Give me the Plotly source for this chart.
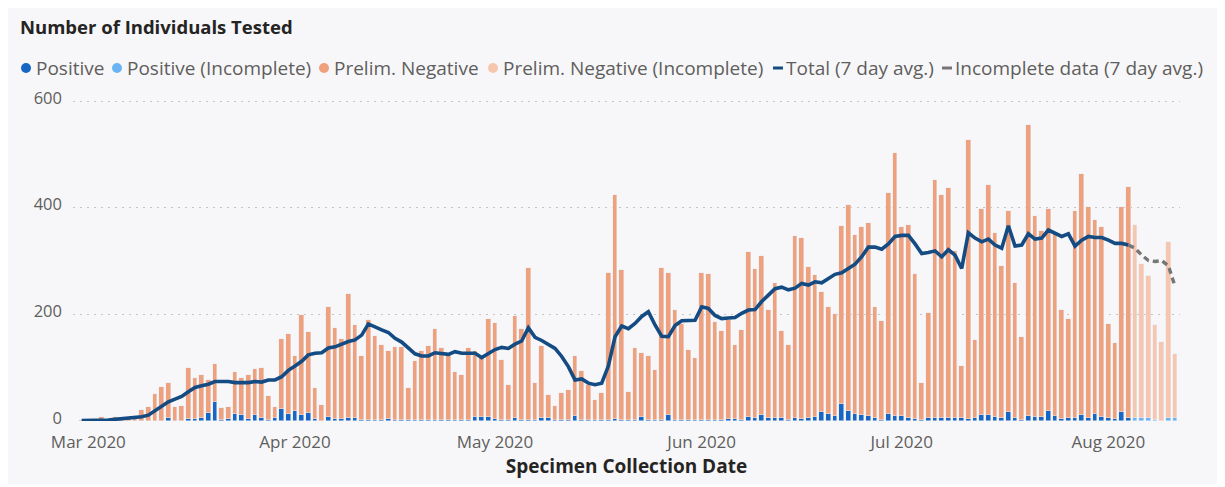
import pandas as pd
import plotly.graph_objects as go

# ---------------- data ----------------
START = "2020-02-29"

positive = [
    0, 0, 0, 0, 0, 0, 0, 0, 0, 0,
    0, 0, 0, 5, 0, 0, 3, 3, 6, 15,
    35, 2, 3, 13, 11, 4, 11, 6, 2, 5,
    22, 13, 18, 12, 15, 3, 0, 8, 3, 3,
    5, 5, 1, 1, 2, 2, 3, 2, 1, 1,
    1, 1, 1, 2, 1, 1, 2, 2, 1, 7,
    7, 7, 4, 1, 1, 5, 1, 1, 2, 5,
    5, 1, 1, 1, 10, 2, 2, 1, 1, 1,
    3, 1, 2, 1, 8, 1, 1, 2, 11, 2,
    2, 1, 1, 1, 2, 1, 2, 4, 4, 1,
    8, 6, 11, 6, 5, 5, 1, 5, 4, 5,
    8, 16, 13, 10, 31, 19, 13, 11, 10, 5,
    1, 14, 10, 10, 6, 3, 1, 6, 6, 5,
    5, 6, 5, 4, 5, 11, 11, 8, 5, 16,
    5, 2, 10, 8, 8, 19, 10, 4, 6, 6,
    11, 6, 13, 8, 6, 4, 16, 6,
]

prelim_negative = [
    1, 1, 2, 8, 3, 8, 4, 5, 5, 21,
    27, 51, 63, 67, 27, 28, 96, 77, 81, 62,
    71, 23, 24, 78, 69, 83, 86, 93, 44, 22,
    131, 151, 104, 187, 151, 58, 30, 206, 171, 151,
    234, 175, 121, 188, 157, 140, 129, 137, 138, 60,
    111, 130, 140, 170, 136, 124, 90, 84, 136, 125,
    115, 184, 180, 113, 67, 191, 172, 286, 69, 136,
    44, 27, 51, 58, 112, 92, 66, 38, 51, 277,
    420, 283, 53, 135, 120, 120, 95, 284, 267, 206,
    179, 133, 118, 276, 273, 185, 166, 185, 139, 170,
    308, 279, 299, 203, 254, 164, 142, 341, 340, 283,
    266, 225, 201, 190, 335, 386, 336, 353, 361, 208,
    187, 413, 492, 353, 362, 273, 71, 197, 445, 419,
    431, 313, 98, 522, 147, 386, 432, 345, 286, 378,
    254, 156, 545, 376, 349, 379, 342, 204, 186, 387,
    453, 396, 364, 356, 175, 142, 385, 433,
]

total_7day_avg = [
    1, 1, 1, 2, 2, 3, 4, 6, 7, 8,
    11, 19, 28, 36, 41, 46, 55, 63, 66, 69,
    74, 74, 74, 72, 72, 72, 74, 73, 77, 77,
    83, 95, 103, 112, 124, 127, 128, 137, 139, 144,
    149, 152, 161, 182, 176, 171, 166, 155, 148, 136,
    126, 122, 122, 128, 127, 125, 130, 127, 127, 127,
    119, 127, 134, 138, 136, 144, 150, 175, 157, 151,
    143, 136, 121, 102, 77, 79, 71, 68, 71, 103,
    158, 178, 173, 183, 196, 205, 180, 159, 158, 179,
    188, 189, 189, 214, 211, 198, 192, 193, 194, 202,
    208, 209, 224, 236, 248, 251, 246, 249, 258, 255,
    261, 259, 268, 275, 278, 286, 294, 308, 326, 326,
    322, 332, 346, 348, 348, 332, 314, 316, 319, 308,
    321, 311, 286, 353, 343, 336, 341, 330, 324, 366,
    328, 330, 351, 341, 343, 358, 352, 346, 351, 328,
    339, 346, 344, 344, 339, 333, 333, 330,
]

positive_incomplete = [6, 6, 6, 2, 0, 6, 6]
prelim_negative_incomplete = [362, 288, 265, 178, 148, 330, 119]
incomplete_7day_avg = [330, 324, 311, 301, 299, 301, 291, 252]

y_tick_values = [0, 200, 400, 600]

series_names = ["Positive", "Positive (Incomplete)", "Prelim. Negative",
                "Prelim. Negative (Incomplete)", "Total (7 day avg.)",
                "Incomplete data (7 day avg.)"]

# ---------------- styles ----------------
C_POS = "#1866C4"
C_POS_INC = "#6AB4F4"
C_NEG = "#EFA07C"
C_NEG_INC = "#F6C6AE"
C_AVG = "#134B82"
C_AVG_INC = "#767676"
C_TEXT = "#605E5C"
C_TITLE = "#252423"
CARD = "#F7F7F9"
FONT = "Segoe UI, Open Sans, Noto Sans, sans-serif"

W, H = 1225, 487
OFF = 8  # the page body margin shifts the figure by 8 px right and down

# plot area in page pixels (as seen in the reference)
P_LEFT, P_RIGHT, P_TOP, P_BOTTOM = 73, 1180, 91, 421
L = P_LEFT - OFF
R = W - (P_RIGHT - OFF)
T = P_TOP - OFF
B = H - (P_BOTTOM - OFF)
PW, PH = W - L - R, H - T - B

PX_PER_DAY = 6.667
FIRST_BAR_PX = 81.67

dates = pd.date_range(START, periods=len(positive), freq="D")
dates_inc = pd.date_range(dates[-1] + pd.Timedelta(days=1),
                          periods=len(positive_incomplete), freq="D")
dates_avg_inc = pd.date_range(dates[-1], periods=len(incomplete_7day_avg), freq="D")

start_ts = pd.Timestamp(START)
x_left = start_ts + pd.Timedelta(days=(P_LEFT - FIRST_BAR_PX) / PX_PER_DAY)
x_right = start_ts + pd.Timedelta(days=(P_RIGHT - FIRST_BAR_PX) / PX_PER_DAY)

y_top = PH / (320 / 600)  # 600 units over 320 px
bar_w = 0.72 * 86400000


def px(x):
    """page x pixel -> paper coordinate"""
    return (x - OFF - L) / PW


def py(y):
    """page y pixel -> paper coordinate"""
    return (H - B - (y - OFF)) / PH


fig = go.Figure()
fig.add_trace(go.Bar(x=dates, y=positive, name=series_names[0], marker_color=C_POS,
                     width=bar_w, showlegend=False))
fig.add_trace(go.Bar(x=dates_inc, y=positive_incomplete, name=series_names[1],
                     marker_color=C_POS_INC, width=bar_w, showlegend=False))
fig.add_trace(go.Bar(x=dates, y=prelim_negative, name=series_names[2], marker_color=C_NEG,
                     width=bar_w, showlegend=False))
fig.add_trace(go.Bar(x=dates_inc, y=prelim_negative_incomplete, name=series_names[3],
                     marker_color=C_NEG_INC, width=bar_w, showlegend=False))
fig.add_trace(go.Scatter(x=dates, y=total_7day_avg, name=series_names[4], mode="lines",
                         line=dict(color=C_AVG, width=3.6), showlegend=False))
fig.add_trace(go.Scatter(x=dates_avg_inc, y=incomplete_7day_avg, name=series_names[5],
                         mode="lines", line=dict(color=C_AVG_INC, width=3.4, dash="6px,4px"),
                         showlegend=False))

shapes = [dict(type="rect", xref="paper", yref="paper", layer="below",
               x0=px(3), x1=px(1222), y0=py(484), y1=py(6),
               fillcolor=CARD, line=dict(width=0))]
annotations = []

# legend (drawn manually to match the compact Power BI legend)
legend_items = [
    (series_names[0], "circle", C_POS, 26, 34),
    (series_names[1], "circle", C_POS_INC, 117, 125),
    (series_names[2], "circle", C_NEG, 324, 332),
    (series_names[3], "circle", C_NEG_INC, 493, 501),
    (series_names[4], "line", C_AVG, 778, 784),
    (series_names[5], "line", C_AVG_INC, 947, 953),
]
LEG_Y = 68
for name, kind, color, mx, tx in legend_items:
    if kind == "circle":
        shapes.append(dict(type="circle", xref="paper", yref="paper",
                           x0=px(mx - 5), x1=px(mx + 5), y0=py(LEG_Y + 5), y1=py(LEG_Y - 5),
                           fillcolor=color, line=dict(width=0)))
    else:
        shapes.append(dict(type="line", xref="paper", yref="paper",
                           x0=px(mx - 5), x1=px(mx + 5), y0=py(LEG_Y), y1=py(LEG_Y),
                           line=dict(color=color, width=3)))
    annotations.append(dict(text=name, xref="paper", yref="paper", x=px(tx), y=py(LEG_Y),
                            xanchor="left", yanchor="middle", showarrow=False,
                            font=dict(family=FONT, size=19, color=C_TEXT)))

fig.update_layout(
    width=W, height=H,
    margin=dict(l=L, r=R, t=T, b=B, autoexpand=False),
    paper_bgcolor="white",
    plot_bgcolor="rgba(0,0,0,0)",
    barmode="stack",
    bargap=0,
    showlegend=False,
    font=dict(family=FONT, color=C_TEXT),
    title=dict(text="Number of Individuals Tested", x=(20 - OFF) / W, xref="container",
               xanchor="left", y=1 - (28 - OFF) / H, yref="container", yanchor="middle",
               font=dict(family=FONT, size=18.5, color=C_TITLE, weight=700)),
    shapes=shapes,
    annotations=annotations,
    xaxis=dict(
        type="date", range=[x_left, x_right], tick0="2020-03-01", dtick="M1",
        tickformat="%b %Y", showgrid=False, zeroline=False, showline=False, ticks="",
        tickfont=dict(family=FONT, size=17, color=C_TEXT), automargin=False,
        ticklabelstandoff=9,
        title=dict(text="Specimen Collection Date", standoff=5,
                   font=dict(family=FONT, size=19, color=C_TITLE, weight=700)),
    ),
    yaxis=dict(
        range=[0, y_top], tickvals=y_tick_values, showgrid=True, gridcolor="#C4C4C4",
        griddash="2px,5px", gridwidth=1.2, zeroline=False, showline=False, ticks="",
        tickfont=dict(family=FONT, size=16.5, color=C_TEXT), automargin=False,
        ticklabelstandoff=10, ticklabelshift=-3,
    ),
)

fig.write_html("out.html")
